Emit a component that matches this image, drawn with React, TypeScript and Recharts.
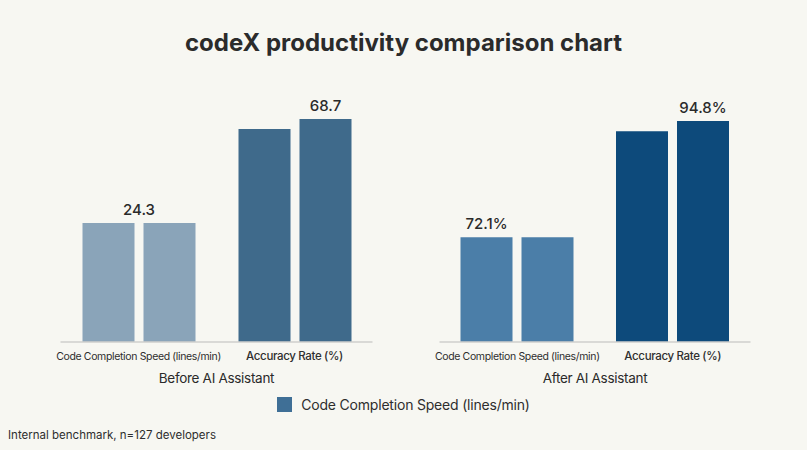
import React from 'react';
import { BarChart, Bar, XAxis, YAxis, Cell, LabelList, Label } from 'recharts';

const categories = ['Code Completion Speed (lines/min)', 'Accuracy Rate (%)'];

// bar heights, on a hidden 0-100 scale
const beforeFirst = [51.1, 91.4];
const beforeSecond = [51.1, 95.7];
const afterFirst = [45.0, 90.5];
const afterSecond = [45.0, 94.8];

// printed value labels (as shown, they do not follow the bar heights)
const beforeLabels = ['24.3', '68.7'];
const afterLabels = ['72.1%', '94.8%'];

const panelNames = ['Before AI Assistant', 'After AI Assistant'];
const legendName = 'Code Completion Speed (lines/min)';
const footNote = 'Internal benchmark, n=127 developers';

const beforeColors = ['#8aa4b9', '#3f6a8b'];
const afterColors = ['#4b7ea8', '#0d4a7b'];

const FONT = 'Inter, "Noto Sans", sans-serif';
const BAR = 52;
const GAP = 9;

const buildRows = (first: number[], second: number[], labels: string[]) =>
  categories.map((name, i) => ({ name, first: first[i], second: second[i], label: labels[i] }));

const CategoryTick = (props: any) => {
  const { x, y, payload } = props;
  const bold = payload.index === 1;
  return (
    <text
      x={x}
      y={y}
      dy={10}
      textAnchor="middle"
      fontFamily={FONT}
      fontSize={bold ? 11.5 : 10.5}
      fontWeight={bold ? 500 : 400}
      letterSpacing={bold ? -0.35 : -0.35}
      fill="#2e2e2e"
    >
      {payload.value}
    </text>
  );
};

const valueLabel = (rows: any[], which: 'first' | 'second', centerGroupFirst: boolean) => (props: any) => {
  const { x, y, width, index } = props;
  const row = rows[index];
  // speed label sits on the first bar, accuracy label on the second bar
  if (which === 'first' && index !== 0) return null;
  if (which === 'second' && index !== 1) return null;
  let cx = Number(x) + Number(width) / 2;
  if (which === 'first' && centerGroupFirst) cx = Number(x) + Number(width) + GAP / 2;
  return (
    <text
      x={cx}
      y={Number(y) - 8}
      textAnchor="middle"
      fontFamily={FONT}
      fontSize={15}
      fontWeight={500}
      fill="#2a2a2a"
    >
      {row.label}
    </text>
  );
};

interface PanelProps {
  rows: any[];
  colors: string[];
  title: string;
  left: number;
  width: number;
  margin: { top: number; right: number; bottom: number; left: number };
  centerGroupFirst: boolean;
}

function Panel({ rows, colors, title, left, width, margin, centerGroupFirst }: PanelProps) {
  return (
    <div style={{ position: 'absolute', left, top: 0 }}>
      <BarChart width={width} height={400} data={rows} margin={margin} barGap={GAP} barSize={BAR}>
        <XAxis
          dataKey="name"
          axisLine={{ stroke: '#cfcfcc', strokeWidth: 1.5 }}
          tickLine={false}
          height={45}
          interval={0}
          tick={<CategoryTick />}
        >
          <Label
            value={title}
            position="insideBottom"
            offset={4}
            style={{ fontFamily: FONT, fontSize: 13.5, letterSpacing: -0.3, fill: '#2a2a2a' }}
          />
        </XAxis>
        <YAxis hide domain={[0, 100]} />
        <Bar dataKey="first" isAnimationActive={false}>
          {rows.map((_, i) => (
            <Cell key={i} fill={colors[i]} />
          ))}
          <LabelList content={valueLabel(rows, 'first', centerGroupFirst)} />
        </Bar>
        <Bar dataKey="second" isAnimationActive={false}>
          {rows.map((_, i) => (
            <Cell key={i} fill={colors[i]} />
          ))}
          <LabelList content={valueLabel(rows, 'second', centerGroupFirst)} />
        </Bar>
      </BarChart>
    </div>
  );
}

export default function App() {
  const beforeRows = buildRows(beforeFirst, beforeSecond, beforeLabels);
  const afterRows = buildRows(afterFirst, afterSecond, afterLabels);

  return (
    <div
      style={{
        position: 'absolute',
        left: 0,
        top: 0,
        width: 807,
        height: 450,
        background: '#f7f7f2',
        fontFamily: FONT,
        overflow: 'hidden',
      }}
    >
      <div
        style={{
          position: 'absolute',
          top: 28,
          width: 807,
          textAlign: 'center',
          fontSize: 24,
          fontWeight: 700,
          color: '#2b2b2b',
        }}
      >
        codeX productivity comparison chart
      </div>

      <Panel
        rows={beforeRows}
        colors={beforeColors}
        title={panelNames[0]}
        left={0}
        width={400}
        margin={{ top: 109, right: 27.5, bottom: 13, left: 60.5 }}
        centerGroupFirst
      />
      <Panel
        rows={afterRows}
        colors={afterColors}
        title={panelNames[1]}
        left={400}
        width={407}
        margin={{ top: 109, right: 56.5, bottom: 13, left: 39.5 }}
        centerGroupFirst={false}
      />

      <div
        style={{
          position: 'absolute',
          top: 396,
          width: 807,
          display: 'flex',
          justifyContent: 'center',
          alignItems: 'center',
          fontSize: 14,
          letterSpacing: -0.2,
          color: '#2e2e2e',
        }}
      >
        <span style={{ width: 15, height: 15, background: '#3f6f96', marginRight: 9, display: 'inline-block' }} />
        {legendName}
      </div>

      <div style={{ position: 'absolute', left: 8, top: 428, fontSize: 11.5, color: '#2e2e2e' }}>{footNote}</div>
    </div>
  );
}
